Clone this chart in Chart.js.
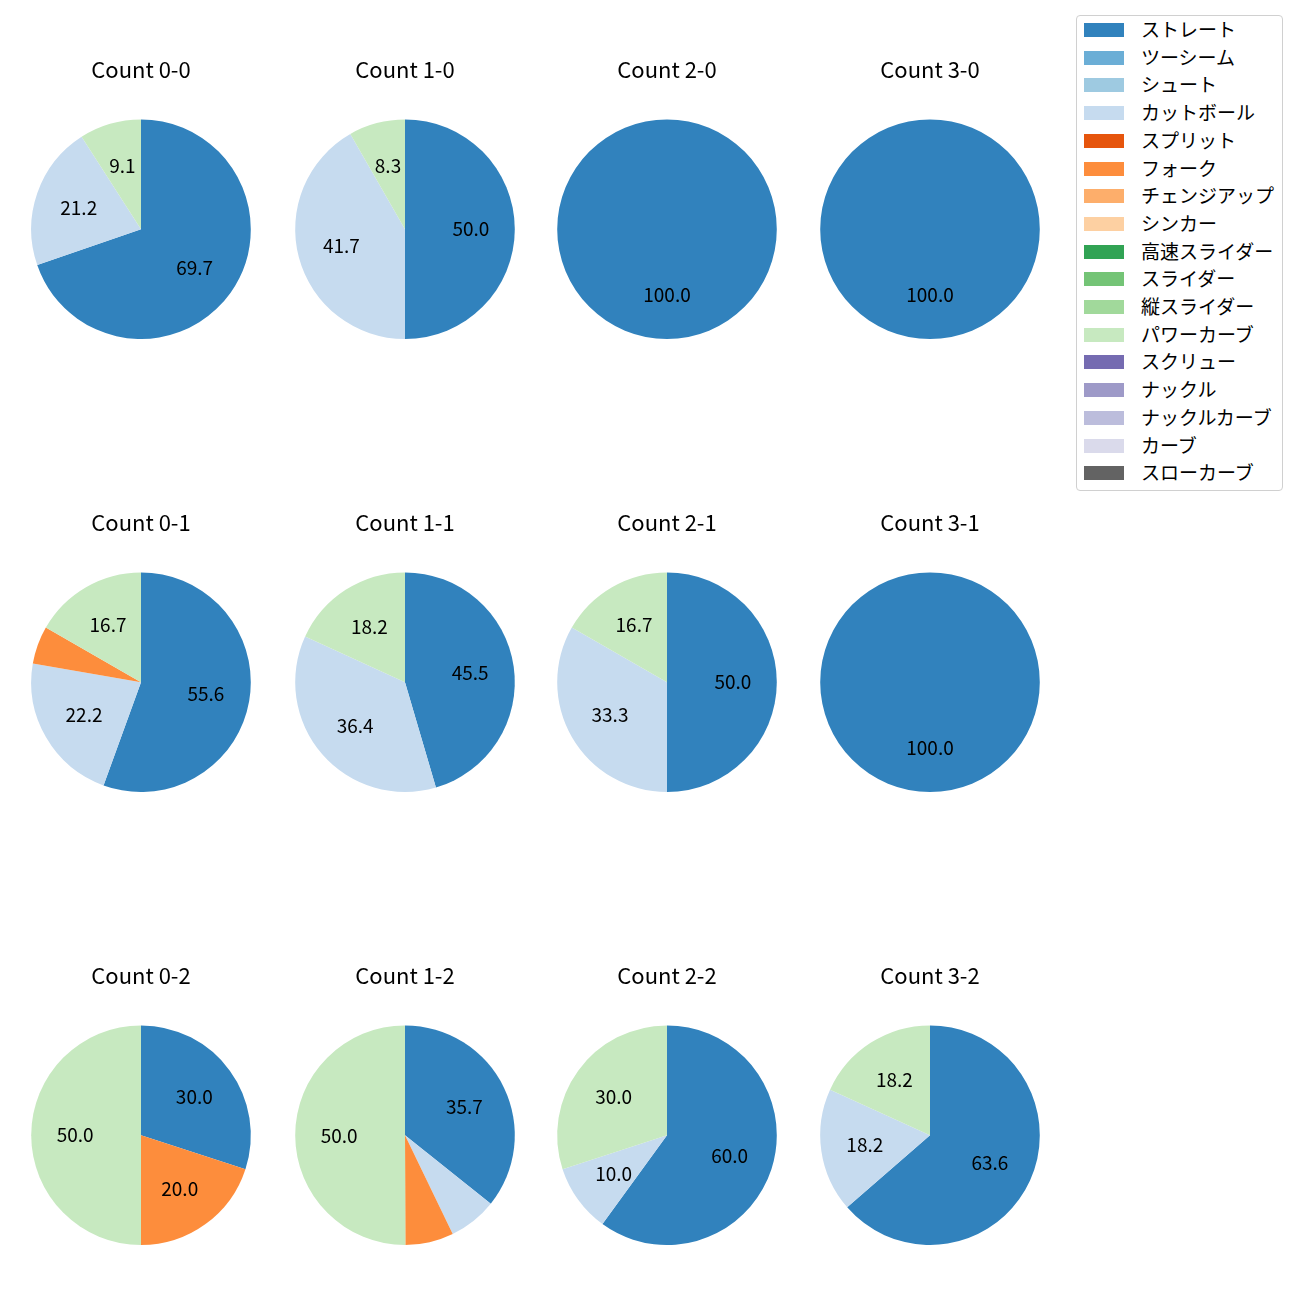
<!DOCTYPE html>
<html>
<head>
<meta charset="utf-8">
<script src="https://cdn.jsdelivr.net/npm/chart.js@4.4.0/dist/chart.umd.min.js"></script>
<style>
  body { margin: 0; background: #fff; font-family: "Noto Sans CJK JP", sans-serif; }
  #page { position: relative; width: 1300px; height: 1300px; }
  .pie { position: absolute; width: 260px; height: 283px; }
  #legend { position: absolute; left: 1076px; top: 15px; width: 205px; height: 474px;
    border: 1px solid #d0d0d0; border-radius: 4px; background: #fff; }
  .item { position: absolute; left: 0; height: 20px; font-size: 19px; line-height: 20px; color: #000; white-space: nowrap; }
  .item span.patch { position: absolute; left: 7px; top: 3px; width: 40px; height: 14px; }
  .item span.txt { position: absolute; left: 64px; top: -1px; }
</style>
</head>
<body>
<div id="page"><div id="legend"></div></div>
<script>
// counts, in grid order
const counts = ["0-0", "1-0", "2-0", "3-0", "0-1", "1-1", "2-1", "3-1", "0-2", "1-2", "2-2", "3-2"];
// pitch types (legend order)
const pitchTypes = ["ストレート", "ツーシーム", "シュート", "カットボール", "スプリット", "フォーク", "チェンジアップ", "シンカー",
  "高速スライダー", "スライダー", "縦スライダー", "パワーカーブ", "スクリュー", "ナックル", "ナックルカーブ", "カーブ", "スローカーブ"];
const pitchColors = ["#3182bd", "#6baed6", "#9ecae1", "#c6dbef", "#e6550d", "#fd8d3c", "#fdae6b", "#fdd0a2",
  "#31a354", "#74c476", "#a1d99b", "#c7e9c0", "#756bb1", "#9e9ac8", "#bcbddc", "#dadaeb", "#636363"];

// percentages per count (only pitch types that appear)
const straight   = [69.7, 50.0, 100.0, 100.0, 55.6, 45.5, 50.0, 100.0, 30.0, 35.7, 60.0, 63.6];
const cutBall    = [21.2, 41.7, 0, 0, 22.2, 36.4, 33.3, 0, 0, 7.1, 10.0, 18.2];
const fork       = [0, 0, 0, 0, 5.6, 0, 0, 0, 20.0, 7.1, 0, 0];
const powerCurve = [9.1, 8.3, 0, 0, 16.7, 18.2, 16.7, 0, 50.0, 50.0, 30.0, 18.2];

const colX = [141, 405, 667, 930];
const rowY = [229, 682, 1135];

//legend
const legend = document.getElementById("legend");
pitchTypes.forEach((name, i) => {
  const div = document.createElement("div");
  div.className = "item";
  div.style.top = (4 + i * 27.7) + "px";
  div.innerHTML = `<span class="patch" style="background:${pitchColors[i]}"></span><span class="txt">${name}</span>`;
  legend.appendChild(div);
});

// draws percentage at 0.6 radius like matplotlib autopct
const pctLabels = {
  id: "pctLabels",
  afterDatasetsDraw(chart) {
    const ctx = chart.ctx;
    const meta = chart.getDatasetMeta(0);
    const values = chart.data.datasets[0].data;
    ctx.save();
    ctx.font = '19px "Noto Sans CJK JP"';
    ctx.fillStyle = "#000";
    ctx.textAlign = "center";
    ctx.textBaseline = "middle";
    meta.data.forEach((arc, i) => {
      const v = values[i];
      if (v < 8) return;
      const p = arc.getProps(["x", "y", "startAngle", "endAngle", "outerRadius"]);
      const mid = (p.startAngle + p.endAngle) / 2;
      const r = p.outerRadius * 0.6;
      ctx.fillText(v.toFixed(1), p.x + Math.cos(mid) * r, p.y + Math.sin(mid) * r);
    });
    ctx.restore();
  }
};

counts.forEach((count, k) => {
  const cx = colX[k % 4];
  const cy = rowY[Math.floor(k / 4)];
  const box = document.createElement("div");
  box.className = "pie";
  box.style.left = (cx - 130) + "px";
  box.style.top = (cy - 173) + "px";
  const canvas = document.createElement("canvas");
  canvas.width = 260;
  canvas.height = 283;
  box.appendChild(canvas);
  document.getElementById("page").appendChild(box);

  const values = pitchTypes.map((p, i) => {
    if (i == 0) return straight[k];
    if (i == 3) return cutBall[k];
    if (i == 5) return fork[k];
    if (i == 11) return powerCurve[k];
    return 0;
  });

  new Chart(canvas, {
    type: "pie",
    data: {
      labels: pitchTypes,
      datasets: [{ data: values, backgroundColor: pitchColors, borderWidth: 0, hoverOffset: 0 }]
    },
    options: {
      responsive: false,
      maintainAspectRatio: false,
      animation: false,
      layout: { padding: { left: 20, right: 20, top: 0, bottom: 0 } },
      plugins: {
        legend: { display: false },
        tooltip: { enabled: false },
        title: {
          display: true,
          text: "Count " + count,
          color: "#000",
          font: { family: "Noto Sans CJK JP", size: 22, weight: "normal", lineHeight: 1.2 },
          padding: { top: 0, bottom: 37 }
        }
      }
    },
    plugins: [pctLabels]
  });
});
</script>
</body>
</html>
